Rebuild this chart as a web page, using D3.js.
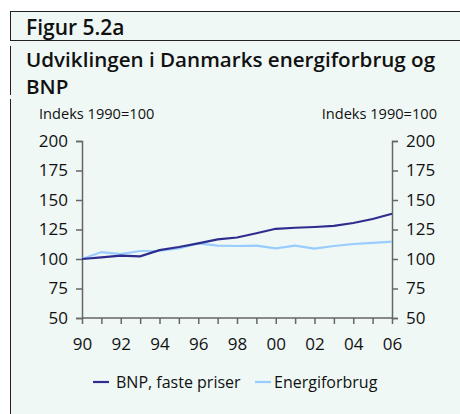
<!DOCTYPE html>
<html>
<head>
<meta charset="UTF-8">
<script src="https://cdn.jsdelivr.net/npm/d3@7"></script>
<style>
  body { margin: 0; background: #fff; }
  text { font-family: "Open Sans", "Noto Sans", sans-serif; fill: #111; }
</style>
</head>
<body>
<svg id="chart" width="460" height="414"></svg>
<script>
// data (index 1990 = 100)
var years = [1990, 1991, 1992, 1993, 1994, 1995, 1996, 1997, 1998, 1999, 2000, 2001, 2002, 2003, 2004, 2005, 2006];
var bnp = [100, 101.3, 102.8, 102.3, 107.5, 110.2, 113.3, 116.6, 118.2, 121.8, 125.6, 126.5, 127.1, 128, 130.5, 133.9, 138.4];
var energi = [100, 105.9, 104.2, 106.8, 107, 109, 113.2, 111.3, 111, 111.3, 109, 111.3, 108.8, 111, 112.7, 113.6, 114.7];
var yTicks = [50, 75, 100, 125, 150, 175, 200];
var xLabelYears = [1990, 1992, 1994, 1996, 1998, 2000, 2002, 2004, 2006];

var svg = d3.select("#chart");

// panel background + frame
svg.append("rect").attr("x", 10).attr("y", 11).attr("width", 450).attr("height", 403).attr("fill", "#eff8f5");
svg.append("line").attr("x1", 10).attr("x2", 460).attr("y1", 11.5).attr("y2", 11.5).attr("stroke", "#222");
svg.append("line").attr("x1", 10).attr("x2", 460).attr("y1", 40.5).attr("y2", 40.5).attr("stroke", "#222");
[[11, 40], [46, 95], [99, 414]].forEach(function (s) {
  svg.append("line").attr("x1", 10.5).attr("x2", 10.5).attr("y1", s[0]).attr("y2", s[1]).attr("stroke", "#222");
});

// titles
svg.append("text").attr("x", 26).attr("y", 35).attr("font-size", 21).attr("font-weight", 600).text("Figur 5.2a");
svg.append("text").attr("x", 26).attr("y", 67).attr("font-size", 20.6).attr("font-weight", 600).text("Udviklingen i Danmarks energiforbrug og");
svg.append("text").attr("x", 26).attr("y", 94).attr("font-size", 20.6).attr("font-weight", 600).text("BNP");
svg.append("text").attr("x", 39).attr("y", 119).attr("font-size", 14.6).text("Indeks 1990=100");
svg.append("text").attr("x", 437).attr("y", 119).attr("font-size", 14.6).attr("text-anchor", "end").text("Indeks 1990=100");

// scales
var x = d3.scaleLinear().domain([1990, 2006]).range([82, 392]);
var y = d3.scaleLinear().domain([50, 200]).range([318, 141]);

var yLeft = d3.axisLeft(y).tickValues(yTicks).tickSize(6).tickPadding(8);
var yRight = d3.axisRight(y).tickValues(yTicks).tickSize(6).tickPadding(8);
var xAxis = d3.axisBottom(x).tickValues(years).tickSize(6).tickPadding(14)
  .tickFormat(function (d) { return xLabelYears.indexOf(d) >= 0 ? d3.format("02d")(d % 100) : ""; });

function styleAxis(g) {
  g.select(".domain").attr("stroke", "#666").attr("stroke-width", 1.5);
  g.selectAll(".tick line").attr("stroke", "#666").attr("stroke-width", 1.5);
  g.selectAll(".tick text").attr("font-size", 17).attr("font-family", "\"Open Sans\", sans-serif").attr("fill", "#111");
}

svg.append("g").attr("transform", "translate(82,0)").call(yLeft).call(styleAxis);
svg.append("g").attr("transform", "translate(392,0)").call(yRight).call(styleAxis);
var gx = svg.append("g").attr("transform", "translate(0,318)").call(xAxis).call(styleAxis);
gx.select(".domain").remove();
gx.append("line").attr("x1", 82).attr("x2", 392).attr("stroke", "#666").attr("stroke-width", 1.5);

// series
var line = d3.line().x(function (d) { return x(d[0]); }).y(function (d) { return y(d[1]); });
var series = [
  { name: "BNP, faste priser", values: bnp, color: "#2e2d8f" },
  { name: "Energiforbrug", values: energi, color: "#99ccff" }
];
series.slice().reverse().forEach(function (s) {
  svg.append("path")
    .datum(years.map(function (yr, i) { return [yr, s.values[i]]; }))
    .attr("d", line).attr("fill", "none").attr("stroke", s.color).attr("stroke-width", 2.2);
});

// legend
var legendX = [93, 255];
series.forEach(function (s, i) {
  var g = svg.append("g").attr("transform", "translate(" + legendX[i] + ",382)");
  g.append("line").attr("x1", 0).attr("x2", 16).attr("stroke", s.color).attr("stroke-width", 2.2);
  g.append("text").attr("x", 19 + (i === 0 ? 4 : 0)).attr("y", 6).attr("font-size", 16).text(s.name);
});
</script>
</body>
</html>
